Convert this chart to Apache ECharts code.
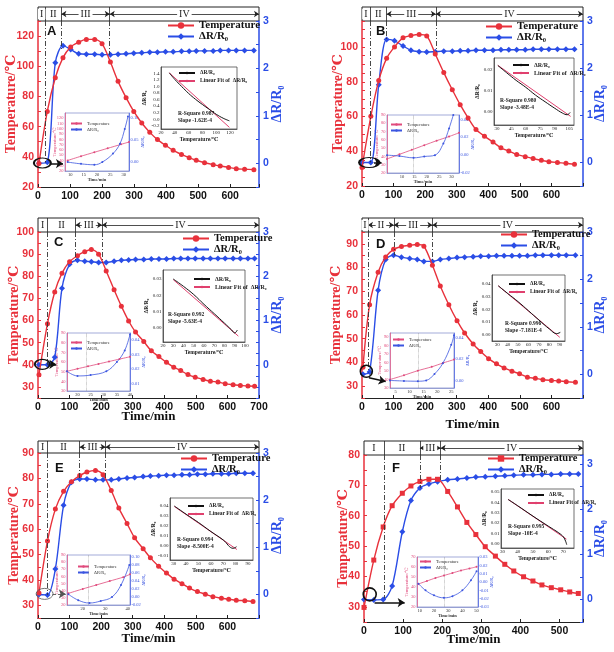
<!DOCTYPE html>
<html><head><meta charset="utf-8">
<script src="https://cdn.jsdelivr.net/npm/echarts@6/dist/echarts.min.js"></script>
<style>html,body{margin:0;padding:0;background:#fff}#c{width:614px;height:652px}</style>
</head><body><div id="c"></div>
<script>
// ---------------- DATA ----------------
const timeA = [3,29,54,78,102,127,151,177,200,226,250,275,299,324,349,373,398,422,448,472,494,520,547,569,595,619,645,674];
const tempA = [35.5,70.1,92.4,105.7,112.8,115.9,117.8,117.8,115.0,102.8,90.0,79.2,70.1,62.4,56.2,51.4,47.6,44.3,41.6,39.4,37.7,36.1,34.8,33.9,33.0,32.1,31.8,31.5];
const drA   = [0.0,0.02,2.12,2.48,2.40,2.31,2.30,2.30,2.29,2.29,2.30,2.31,2.32,2.33,2.34,2.34,2.35,2.35,2.36,2.36,2.37,2.37,2.37,2.38,2.38,2.38,2.38,2.38];

const timeB = [0,28,53,78,103,130,155,181,205,232,259,286,311,336,361,388,415,440,465,490,517,542,568,592,619,646,673];
const tempB = [30.6,60.1,80.7,93.5,100.1,105.3,106.6,107.2,106.4,96.0,85.3,75.4,66.8,59.2,52.5,48.7,45.3,42.0,40.1,38.2,36.9,35.8,34.8,34.0,33.5,33.1,32.5];
const drB   = [0.0,0.0,1.65,2.61,2.58,2.47,2.38,2.35,2.34,2.35,2.36,2.36,2.37,2.37,2.38,2.38,2.38,2.39,2.39,2.39,2.39,2.40,2.40,2.40,2.40,2.40,2.40];

const timeC = [3,30,53,76,100,125,148,169,192,216,241,264,287,309,335,359,383,407,430,452,475,498,523,546,570,593,618,641,665,686];
const tempC = [35.5,58.6,72.9,81.4,86.6,89.3,91.1,92.1,90.0,82.4,73.9,66.5,59.8,54.8,50.5,46.3,43.7,41.1,38.9,37.4,35.6,34.4,33.4,32.6,32.2,31.4,31.0,30.7,30.4,30.3];
const drC   = [0.0,0.0,0.17,1.73,2.27,2.36,2.34,2.33,2.31,2.31,2.34,2.36,2.37,2.38,2.38,2.39,2.39,2.39,2.40,2.40,2.40,2.40,2.40,2.40,2.40,2.40,2.40,2.40,2.40,2.40];

const timeD = [3,24,51,75,100,125,151,175,196,223,248,275,301,325,352,376,401,426,450,475,499,524,549,573,600,623,647,676];
const tempD = [38.0,64.3,78.0,84.5,87.7,88.9,89.4,89.7,89.0,81.0,72.2,64.3,57.6,52.4,47.8,44.6,41.6,39.4,37.7,36.3,35.2,33.8,33.3,32.7,32.4,32.2,31.9,31.6];
const drD   = [0.0,0.05,1.77,2.42,2.51,2.47,2.44,2.42,2.38,2.38,2.42,2.44,2.46,2.47,2.48,2.49,2.49,2.50,2.50,2.50,2.50,2.50,2.51,2.51,2.51,2.51,2.51,2.51];

const timeE = [3,30,55,81,106,132,155,182,206,232,256,282,306,333,356,382,407,431,456,480,505,530,554,581,604,628,655,681];
const tempE = [34.8,55.3,67.9,74.9,78.7,81.1,82.5,83.1,81.4,75.2,68.3,62.2,56.6,52.3,48.7,45.4,42.7,40.3,38.5,36.8,35.4,34.4,33.4,32.8,32.4,32.0,31.8,31.5];
const drE   = [0.0,-0.01,0.54,1.89,2.38,2.45,2.45,2.43,2.43,2.43,2.45,2.47,2.48,2.50,2.51,2.52,2.53,2.53,2.54,2.54,2.55,2.55,2.56,2.56,2.56,2.57,2.57,2.57];

const timeF = [0,25,49,72,98,120,143,166,188,214,239,263,286,310,336,360,383,408,432,455,479,503,526,548];
const tempF = [29.8,45.4,56.3,63.3,67.4,69.8,71.3,72.0,72.0,68.0,62.9,57.8,53.8,49.8,46.7,44.0,41.8,39.9,38.5,37.2,36.3,35.6,34.9,34.4];
const drF   = [0.0,-0.01,0.0,0.30,1.50,2.19,2.47,2.56,2.61,2.65,2.67,2.69,2.71,2.72,2.73,2.74,2.75,2.76,2.76,2.77,2.77,2.78,2.78,2.78];

// stage boundaries (min)
const stageA = [23,73,224];
const stageB = [25,78,234];
const stageC = [30,119,203];
const stageD = [19,101,223];
const stageE = [30,132,214];
const stageF = [51,143,196];
const stageNames = ['I','II','III','IV'];

// linear-fit insets: ΔR/R0 vs temperature
const fitA_T = [32,40,50,60,70,80,90,100,110,119];
const fitA_R = [1.42,1.22,1.00,0.79,0.61,0.45,0.30,0.15,0.03,-0.05];
const fitA_LT = [32,119], fitA_LR = [1.42,-0.25];
const fitB_T = [31,40,50,60,70,80,90,98,103,106];
const fitB_R = [0.0219,0.0185,0.0148,0.0115,0.0078,0.0046,0.0015,-0.0008,-0.0016,-0.0005];
const fitB_LT = [31,106.5], fitB_LR = [0.0220,-0.0024];
const fitC_T = [30,40,50,60,70,80,87,90,92.5];
const fitC_R = [0.030,0.0255,0.0205,0.0145,0.0088,0.003,-0.0012,-0.003,-0.0012];
const fitC_LT = [30,93.5], fitC_LR = [0.0296,-0.0049];
const fitD_T = [31,40,50,60,70,80,87,90.5];
const fitD_R = [0.0385,0.0325,0.026,0.0188,0.0115,0.0045,0.0008,0.0018];
const fitD_LT = [31,90], fitD_LR = [0.0385,-0.0021];
const fitE_T = [30.5,40,50,60,70,78,80.7];
const fitE_R = [0.040,0.0318,0.0235,0.0145,0.006,-0.0023,-0.0007];
const fitE_LT = [30.5,81], fitE_LR = [0.0395,-0.0035];
const fitF_T = [33.7,40,50,60,67,70,71.5,72.2];
const fitF_R = [0.0429,0.0368,0.0268,0.0172,0.0106,0.0068,0.0025,-0.0008];
const fitF_LT = [33.7,72], fitF_LR = [0.0429,0.0046];
const statA = 'R-Square 0.987\nSlope -1.62E-4';
const statB = 'R-Square 0.980\nSlope -3.48E-4';
const statC = 'R-Square 0.992\nSlope -5.63E-4';
const statD = 'R-Square 0.996\nSlope -7.181E-4';
const statE = 'R-Square 0.994\nSlope -8.500E-4';
const statF = 'R-Square 0.995\nSlope -10E-4';

// early-stage zoom insets
const zA_tT = [9,14,19,24,29,32], zA_T = [40,48,55.5,63,70.5,75];
const zA_tR = [9,14,19,22,26,28.6,30.4,31.6], zA_R = [0,-0.004,-0.006,0,0.019,0.041,0.074,0.102];
const zB_tT = [4,9,14,19,24,29,33], zB_T = [37,42.5,48,53.5,59,64,68.5];
const zB_tR = [4,9,14.7,19,23.3,26.7,29,30.7], zB_R = [0,-0.001,-0.003,-0.0015,0,0.013,0.03,0.045];
const zC_tT = [16,20,24,28,32,36,40], zC_T = [50.4,53,55.5,58,60.5,63,65.4];
const zC_tR = [16,20,25,31,35,38,40], zC_R = [0.0186,0.0154,0.016,0.0186,0.025,0.033,0.044];
const zD_tT = [3,8,13,18,22,26], zD_T = [40,45,50.5,55,59.5,63.6];
const zD_tR = [3,8,13,16,19,22,25,26], zD_R = [0,-0.0005,-0.0007,0,0.006,0.016,0.033,0.042];
const zE_tT = [13.6,20,26,32,38,41], zE_T = [36.3,42.5,48,53.5,59,62.9];
const zE_tR = [13.6,18,23,28,33,37,40.7], zE_R = [0.007,-0.008,-0.015,-0.01,0,0.03,0.08];
const zF_tT = [9,15,21,27,33,39,45,50], zF_T = [43,46,49,51.5,54,56.5,58.5,60.2];
const zF_tR = [9,14,20,27,33,40,46,50], zF_R = [-0.002,-0.01,-0.016,-0.019,-0.017,-0.01,0.002,0.013];

// ---------------- BUILD ----------------
const DATA = {
  A:{t:timeA,T:tempA,R:drA,st:stageA,fT:fitA_T,fR:fitA_R,lT:fitA_LT,lR:fitA_LR,stat:statA,ztT:zA_tT,zT:zA_T,ztR:zA_tR,zR:zA_R,zLine:null},
  B:{t:timeB,T:tempB,R:drB,st:stageB,fT:fitB_T,fR:fitB_R,lT:fitB_LT,lR:fitB_LR,stat:statB,ztT:zB_tT,zT:zB_T,ztR:zB_tR,zR:zB_R,zLine:14.7},
  C:{t:timeC,T:tempC,R:drC,st:stageC,fT:fitC_T,fR:fitC_R,lT:fitC_LT,lR:fitC_LR,stat:statC,ztT:zC_tT,zT:zC_T,ztR:zC_tR,zR:zC_R,zLine:23.5},
  D:{t:timeD,T:tempD,R:drD,st:stageD,fT:fitD_T,fR:fitD_R,lT:fitD_LT,lR:fitD_LR,stat:statD,ztT:zD_tT,zT:zD_T,ztR:zD_tR,zR:zD_R,zLine:13.2},
  E:{t:timeE,T:tempE,R:drE,st:stageE,fT:fitE_T,fR:fitE_R,lT:fitE_LT,lR:fitE_LR,stat:statE,ztT:zE_tT,zT:zE_T,ztR:zE_tR,zR:zE_R,zLine:22.6},
  F:{t:timeF,T:tempF,R:drF,st:stageF,fT:fitF_T,fR:fitF_R,lT:fitF_LT,lR:fitF_LR,stat:statF,ztT:zF_tT,zT:zF_T,ztR:zF_tR,zR:zF_R,zLine:27}
};

// layout: axis specs are [min,max,interval,labelStep,labelMin,labelMax,decimals]
const LAYOUT = {
  A:{main:[38,21,221,166],bar:[38,7,221,14],x:[0,690,100,100,0,600,0],l:[20,130,10,20,20,120,0],r:[-0.5,3,0.5,1,0,3,0],lGap:20,rGap:11,xGap:null,
     leg:[167,20,11],letter:[47,25],arrows:[0,0,1,1],
     fit:[161,67,76,62],fX:[20,130,10,20,20,120,0],fY:[-0.3,1.6,0.1,0.2,-0.2,1.4,1],fLeg:[17,3,5.5],stat:[17,43],
     zoom:[65,113,64,58],zX:[8,32,1,5,10,30,0],zL:[20,130,10,10,20,120,0],zRr:[-0.02,0.11,0.01,0.05,0,0.10,2],zLeg:[5,8],
     ell:{c:[13.7,35.9],s:[17,10]},arr:[[36,35.5],[78,35.5]],redSym:'circle'},
  B:{main:[362,21,221,165],bar:[362,7,221,14],x:[0,700,100,100,0,600,0],l:[20,115,5,20,20,100,0],r:[-0.5,3,0.5,1,0,3,0],lGap:17,rGap:10,xGap:null,
     leg:[485,21,11],letter:[376,25],arrows:[0,0,1,1],
     fit:[494,58,80,67],fX:[27,110,1,15,30,105,0],fY:[-0.0065,0.0255,0.0005,0.01,0,0.02,2],fLeg:[18,4,6],stat:[6,39],
     zoom:[387,115,72,58],zX:[4,33,1,5,10,30,0],zL:[20,90,10,10,20,90,0],zRr:[-0.02,0.045,0.005,0.02,-0.02,0.04,2],zLeg:[3,7],
     ell:{c:[22.6,33.5],s:[20,10]},arr:[[38,33.5],[62,33.5]],redSym:'circle'},
  C:{main:[38,232,221,166],bar:[38,218,221,14],x:[0,700,100,100,0,700,0],l:[25,100,5,10,30,100,0],r:[-0.75,3,0.25,1,0,3,0],lGap:17,rGap:11,xGap:12,
     leg:[182,233,10.5],letter:[54,236],arrows:[0,0,1,1],
     fit:[163,270,82,72],fX:[20,100,10,10,20,100,0],fY:[-0.0085,0.0355,0.0005,0.01,0,0.03,2],fLeg:[30,6,6],stat:[5,41],
     zoom:[67,333,63,58],zX:[16,40,1,5,20,40,0],zL:[30,90,10,10,30,90,0],zRr:[0.005,0.045,0.005,0.01,0.01,0.04,2],zLeg:[3,7],
     ell:{c:[13.7,40.2],s:[15,10]},arr:[[33,40.2],[58,40.2]],redSym:'circle'},
  D:{main:[362,232,221,166],bar:[362,218,221,14],x:[0,700,100,100,0,600,0],l:[25,95,5,10,30,90,0],r:[-0.5,3,0.5,1,0,3,0],lGap:19,rGap:10,xGap:20,
     leg:[500,229,10.5],letter:[376,238],arrows:[0,1,1,1],
     fit:[492,275,73,66],fX:[25,95,5,10,30,90,0],fY:[-0.005,0.047,0.001,0.01,0,0.04,2],fLeg:[16,6,5.5],stat:[13,45],
     zoom:[390,333,64,55],zX:[3,26,1,5,5,25,0],zL:[30,95,5,10,30,90,0],zRr:[-0.007,0.044,0.001,0.02,0,0.04,2],zLeg:[2,4],
     ell:{c:[13.7,36.3],s:[12,12]},arr:[[22,33.5],[75,32]],redSym:'circle'},
  E:{main:[38,453,221,165],bar:[38,441,221,12],x:[0,700,100,100,0,600,0],l:[25,90,5,10,30,90,0],r:[-0.5,3,0.5,1,0,3,0],lGap:17,rGap:11,xGap:14,
     leg:[180,453,10.5],letter:[55,462],arrows:[0,0,1,1],
     fit:[170,498,83,62],fX:[27,94,1,10,30,90,0],fY:[-0.014,0.048,0.001,0.01,-0.01,0.04,2],fLeg:[17,5,5.5],stat:[7,38],
     zoom:[67,555,63,50],zX:[13,41,1,10,20,40,0],zL:[20,90,10,10,20,90,0],zRr:[-0.02,0.105,0.005,0.02,-0.02,0.10,2],zLeg:[10,9],
     ell:{c:[21,34.5],s:[17,11],thin:true},arr:[[46,34.5],[88,34.5]],dashArr:true,redSym:'circle'},
  F:{main:[364,455,219,167],bar:[364,441,219,14],x:[0,560,100,100,0,500,0],l:[25,80,5,10,30,80,0],r:[-0.5,3.2,0.5,1,0,3,0],lGap:14,rGap:10,xGap:11,
     leg:[487,453,10.5],letter:[392,462],arrows:[0,0,1,1],
     fit:[501,489,73,59],fX:[29,77,1,10,30,70,0],fY:[-0.004,0.053,0.001,0.01,0,0.05,2],fLeg:[26,3,5.5],stat:[7,34],
     zoom:[417,557,61,50],zX:[8,51,1,10,10,50,0],zL:[20,70,10,10,20,70,0],zRr:[-0.03,0.03,0.01,0.01,-0.03,0.03,2],zLeg:[2,2],
     ell:{c:[14.6,34.1],s:[13,13]},arr:[[27,31.4],[104,31.4]],redSym:'rect'}
};

const RED = '#e8313b', BLUE = '#2a4de6', PINK = '#e04a7c', LBLUE = '#3b55e0';
const SERIF = "'Liberation Serif','DejaVu Serif',serif";
const SANS = "'Liberation Sans','DejaVu Sans',sans-serif";
const NAMES = {T:'Temperature', R:'ΔR/R₀', fd:'ΔR/R₀', fl:'Linear Fit of  ΔR/R₀', zT:'Temperature', zR:'ΔR/R₀'};

function pairs(xs, ys){ return xs.map((x,i)=>[x, ys[i]]); }
function interp(xs, ys, x){
  for (let i=0;i<xs.length-1;i++){ if (x>=xs[i] && x<=xs[i+1]){ const f=(x-xs[i])/(xs[i+1]-xs[i]); return ys[i]+f*(ys[i+1]-ys[i]); } }
  return ys[ys.length-1];
}
function labF(spec){
  const step=spec[3], lo=spec[4], hi=spec[5], dec=spec[6]||0;
  return function(v){
    if (Math.abs(v)<1e-9) v=0;
    const q=v/step; if (Math.abs(q-Math.round(q))>1e-6) return '';
    if (v<lo-1e-9 || v>hi+1e-9) return '';
    return dec===0 ? String(Math.round(v)) : v.toFixed(dec);
  };
}
function rect(r){ return {left:r[0], top:r[1], width:r[2], height:r[3], containLabel:false}; }
function valAxis(grid, spec, extra){
  const ax = {type:'value', gridIndex:grid, min:spec[0], max:spec[1], interval:spec[2], splitLine:{show:false},
    nameMoveOverlap:false,
    axisLine:{show:true, onZero:false}, axisTick:{show:false}, axisLabel:{formatter:labF(spec)}};
  for (const k in extra){
    if (typeof extra[k]==='object' && !Array.isArray(extra[k]) && ax[k]) ax[k]=Object.assign({}, ax[k], extra[k]); else ax[k]=extra[k];
  }
  return ax;
}

const option = {animation:false, backgroundColor:'#fff', grid:[], xAxis:[], yAxis:[], series:[], legend:[], title:[]};

function build(k){
  const D = DATA[k], L = LAYOUT[k];
  const g0 = option.grid.length;
  option.grid.push(rect(L.main));
  option.grid.push(Object.assign(rect(L.bar), {show:true, borderColor:'#222', borderWidth:1}));
  option.grid.push(Object.assign(rect(L.fit), {show:true, borderColor:'#333', borderWidth:0.7, backgroundColor:'#fff'}));
  option.grid.push(Object.assign(rect(L.zoom), {show:true, borderColor:'#7d88c8', borderWidth:0.7, backgroundColor:'#fff'}));
  const x0 = option.xAxis.length, y0 = option.yAxis.length;

  // ---- main axes
  option.xAxis.push(valAxis(g0, L.x, {
    axisLine:{lineStyle:{color:'#222', width:1.2}},
    axisTick:{show:true, inside:true, length:3, lineStyle:{color:'#222'}},
    axisLabel:{color:'#111', fontWeight:'bold', fontSize:10.5, fontFamily:SANS, margin:4},
    name: L.xGap!==null ? 'Time/min' : '', nameLocation:'middle', nameGap:L.xGap||10,
    nameTextStyle:{color:'#111', fontWeight:'bold', fontSize:13, fontFamily:SERIF}
  }));
  option.xAxis.push({type:'value', gridIndex:g0+1, min:L.x[0], max:L.x[1], show:false});
  option.xAxis.push(valAxis(g0+2, L.fX, {
    axisLine:{lineStyle:{color:'#333', width:0.7}},
    axisLabel:{color:'#222', fontSize:5, fontFamily:SERIF, margin:1.5},
    name:'Temperature/℃', nameLocation:'middle', nameGap:7.5, nameTextStyle:{color:'#222', fontSize:5.5, fontWeight:'bold', fontFamily:SERIF}
  }));
  option.xAxis.push(valAxis(g0+3, L.zX, {
    axisLine:{lineStyle:{color:'#7d88c8', width:0.7}},
    axisLabel:{color:'#333', fontSize:4.5, fontFamily:SERIF, margin:1.5},
    name:'Time/min', nameLocation:'middle', nameGap:6.5, nameTextStyle:{color:'#333', fontSize:4.5, fontWeight:'bold', fontFamily:SERIF}
  }));

  option.yAxis.push(valAxis(g0, L.l, {
    position:'left',
    axisLine:{lineStyle:{color:RED, width:1.5}},
    axisTick:{show:true, inside:true, length:3, lineStyle:{color:RED}},
    axisLabel:{color:RED, fontWeight:'bold', fontSize:10.5, fontFamily:SANS, margin:4},
    name:'Temperature/℃', nameLocation:'middle', nameRotate:90, nameGap:L.lGap,
    nameTextStyle:{color:RED, fontWeight:'bold', fontSize:14, fontFamily:SERIF}
  }));
  option.yAxis.push(valAxis(g0, L.r, {
    position:'right',
    axisLine:{lineStyle:{color:BLUE, width:1.5}},
    axisTick:{show:true, inside:true, length:3, lineStyle:{color:BLUE}},
    axisLabel:{color:BLUE, fontWeight:'bold', fontSize:10.5, fontFamily:SANS, margin:4},
    name:'ΔR/R₀', nameLocation:'middle', nameRotate:90, nameGap:L.rGap,
    nameTextStyle:{color:BLUE, fontWeight:'bold', fontSize:14, fontFamily:SERIF}
  }));
  option.yAxis.push({type:'value', gridIndex:g0+1, min:0, max:1, show:false});
  option.yAxis.push(valAxis(g0+2, L.fY, {
    axisLine:{lineStyle:{color:'#333', width:0.7}},
    axisLabel:{color:'#222', fontSize:5, fontFamily:SERIF, margin:1.5},
    name:'ΔR/R₀', nameLocation:'middle', nameRotate:90, nameGap:13, nameTextStyle:{color:'#222', fontSize:5.5, fontWeight:'bold', fontFamily:SERIF}
  }));
  option.yAxis.push(valAxis(g0+3, L.zL, {
    position:'left',
    axisLine:{lineStyle:{color:PINK, width:0.7}},
    axisLabel:{color:PINK, fontSize:4.5, fontFamily:SERIF, margin:1.5},
    name:'Temperature/℃', nameLocation:'middle', nameRotate:90, nameGap:8, nameTextStyle:{color:PINK, fontSize:4.5, fontFamily:SERIF}
  }));
  option.yAxis.push(valAxis(g0+3, L.zRr, {
    position:'right',
    axisLine:{lineStyle:{color:LBLUE, width:0.7}},
    axisLabel:{color:LBLUE, fontSize:4.5, fontFamily:SERIF, margin:1.5},
    name:'ΔR/R₀', nameLocation:'middle', nameRotate:90, nameGap:11, nameTextStyle:{color:LBLUE, fontSize:4.5, fontFamily:SERIF}
  }));

  // ---- main series
  option.series.push({
    type:'line', name:k+'T', xAxisIndex:x0, yAxisIndex:y0, data:pairs(D.t, D.T), smooth:0.3,
    symbol:L.redSym, symbolSize:5, lineStyle:{color:RED, width:1.4}, itemStyle:{color:RED}, z:4,
    markPoint:{silent:true, animation:false, label:{show:false},
      data:[{coord:L.ell.c, symbol:'circle', symbolSize:L.ell.s,
        itemStyle:{color:'rgba(0,0,0,0)', borderColor:L.ell.thin?'#555':'#111', borderWidth:L.ell.thin?0.8:1.6}}]},
    markLine:{silent:true, animation:false, symbol:['none','arrow'], symbolSize:7, label:{show:false},
      lineStyle:{color:L.dashArr?'#555':'#111', width:L.dashArr?0.9:1.5, type:L.dashArr?'dashed':'solid'},
      data:[[{coord:L.arr[0]},{coord:L.arr[1]}]]}
  });
  const rMax = L.r[1];
  option.series.push({
    type:'line', name:k+'R', xAxisIndex:x0, yAxisIndex:y0+1, data:pairs(D.t, D.R), smooth:0.3,
    symbol:'diamond', symbolSize:6, lineStyle:{color:BLUE, width:1.4}, itemStyle:{color:BLUE}, z:3,
    markLine:{silent:true, animation:false, symbol:['none','none'], label:{show:false},
      lineStyle:{color:'#333', width:0.9, type:[5,2,1,2]},
      data:D.st.map(b=>[{coord:[b, rMax]},{coord:[b, interp(D.t, D.R, b)]}])}
  });

  // ---- stage bar
  const bnds = [L.x[0], ...D.st, L.x[1]];
  const sep = D.st.map(b=>({xAxis:b}));
  const arrows = [], labs = [];
  for (let i=0;i<4;i++){
    const s=bnds[i], e=bnds[i+1];
    labs.push({name:stageNames[i], coord:[(s+e)/2, 0.5]});
    if (L.arrows[i]) arrows.push([{coord:[s,0.5], symbol:'arrow', symbolSize:5},{coord:[e,0.5], symbol:'arrow', symbolSize:5}]);
  }
  option.series.push({
    type:'line', xAxisIndex:x0+1, yAxisIndex:y0+2, data:[[L.x[0],0.5]], symbol:'none', lineStyle:{width:0}, silent:true,
    markLine:{silent:true, animation:false, symbol:['none','none'], label:{show:false},
      lineStyle:{color:'#222', type:'solid', width:0.8}, data:[...sep, ...arrows]},
    markPoint:{silent:true, animation:false, symbol:'rect', symbolSize:1, itemStyle:{color:'rgba(0,0,0,0)'},
      label:{show:true, position:'inside', formatter:'{b}', color:'#222', fontFamily:SERIF, fontSize:10, backgroundColor:'#fff', padding:[0,2]},
      data:labs}
  });

  // ---- fit inset
  option.series.push({type:'line', name:k+'fd', xAxisIndex:x0+2, yAxisIndex:y0+3, data:pairs(D.fT, D.fR), smooth:0.4,
    symbol:'none', lineStyle:{color:'#111', width:1}, itemStyle:{color:'#111'}, z:6});
  option.series.push({type:'line', name:k+'fl', xAxisIndex:x0+2, yAxisIndex:y0+3, data:pairs(D.lT, D.lR),
    symbol:'none', lineStyle:{color:'#e0406e', width:1}, itemStyle:{color:'#e0406e'}, z:5});

  // ---- zoom inset
  option.series.push({type:'line', name:k+'zT', xAxisIndex:x0+3, yAxisIndex:y0+4, data:pairs(D.ztT, D.zT), smooth:0.2,
    symbol:'circle', symbolSize:2, lineStyle:{color:PINK, width:0.8}, itemStyle:{color:PINK}, z:6,
    markLine: D.zLine===null ? undefined : {silent:true, animation:false, symbol:['none','none'], label:{show:false},
      lineStyle:{color:'#8a8a8a', type:'dotted', width:0.6}, data:[{xAxis:D.zLine}]}});
  option.series.push({type:'line', name:k+'zR', xAxisIndex:x0+3, yAxisIndex:y0+5, data:pairs(D.ztR, D.zR), smooth:0.4,
    symbol:'circle', symbolSize:2, lineStyle:{color:LBLUE, width:0.8}, itemStyle:{color:LBLUE}, z:6});

  // ---- legends
  const fm = n => NAMES[n.slice(1)];
  option.legend.push({left:L.leg[0], top:L.leg[1], orient:'vertical', padding:0, itemGap:0, itemWidth:26, itemHeight:8,
    selectedMode:false, data:[k+'T', k+'R'], formatter:fm,
    textStyle:{fontFamily:SERIF, fontSize:L.leg[2], fontWeight:'bold', color:'#111'}});
  option.legend.push({left:L.fit[0]+L.fLeg[0], top:L.fit[1]+L.fLeg[1], orient:'vertical', padding:0, itemGap:2, itemWidth:16, itemHeight:3,
    selectedMode:false, data:[k+'fd', k+'fl'], formatter:fm,
    textStyle:{fontFamily:SERIF, fontSize:L.fLeg[2], fontWeight:'bold', color:'#222'}});
  option.legend.push({left:L.zoom[0]+L.zLeg[0], top:L.zoom[1]+L.zLeg[1], orient:'vertical', padding:0, itemGap:1, itemWidth:11, itemHeight:3,
    selectedMode:false, data:[k+'zT', k+'zR'], formatter:fm,
    textStyle:{fontFamily:SERIF, fontSize:4.5, color:'#333'}});

  // ---- texts
  option.title.push({text:k, left:L.letter[0], top:L.letter[1], padding:0,
    textStyle:{fontFamily:SANS, fontWeight:'bold', fontSize:13, color:'#111'}});
  option.title.push({text:D.stat, left:L.fit[0]+L.stat[0], top:L.fit[1]+L.stat[1], padding:0,
    textStyle:{fontFamily:SERIF, fontWeight:'bold', fontSize:5.5, lineHeight:7, color:'#222'}});
}

['A','B','C','D','E','F'].forEach(build);

const chart = echarts.init(document.getElementById('c'), null, {renderer:'canvas'});
chart.setOption(option);
</script>
</body></html>
